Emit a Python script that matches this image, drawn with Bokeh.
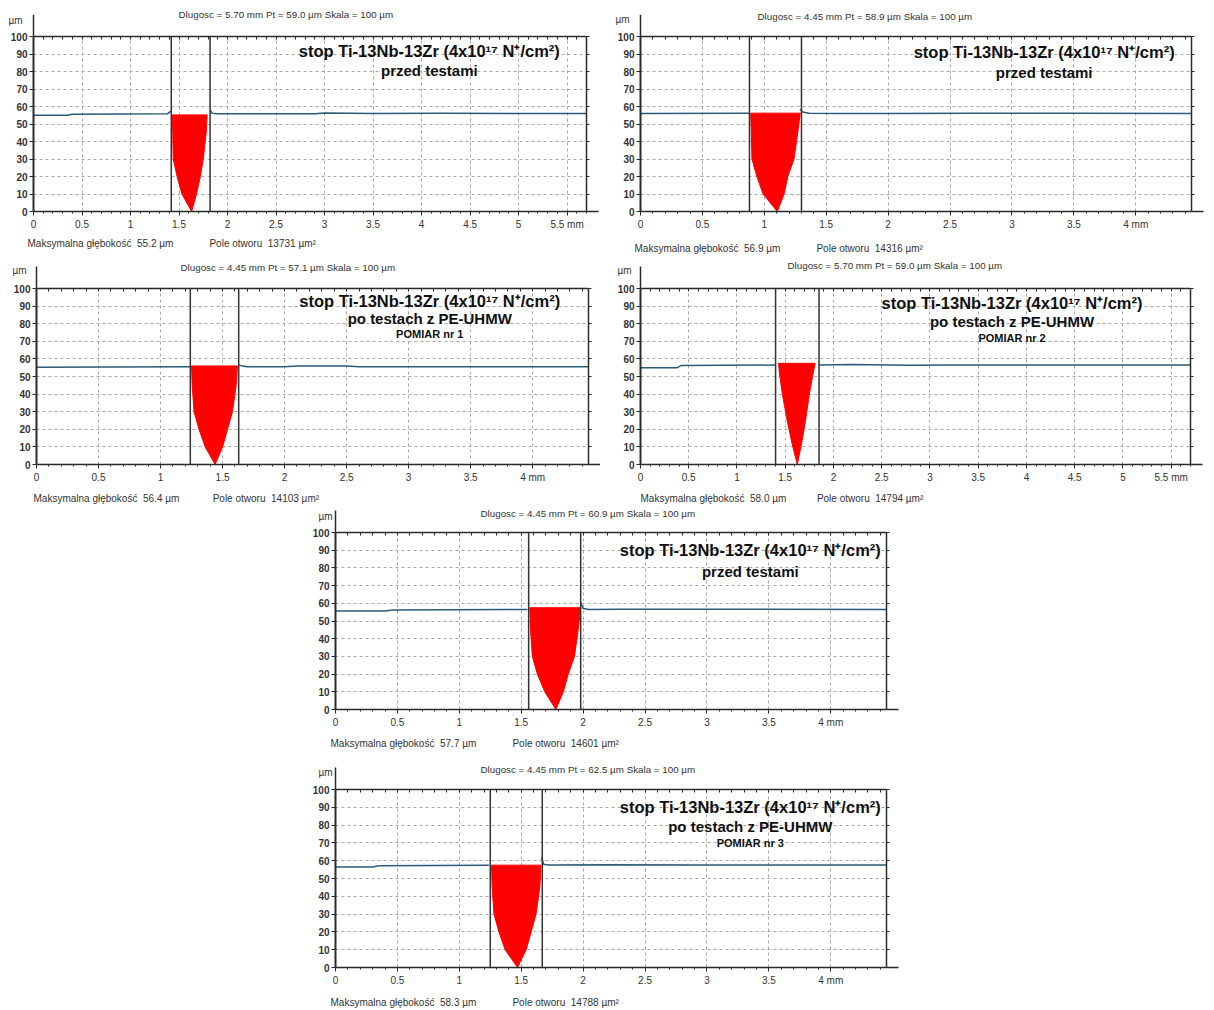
from bokeh.plotting import figure
from bokeh.models import (Arrow, OpenHead, NormalHead, Span, LinearAxis, FixedTicker, Title, Label,
                          NumeralTickFormatter, Range1d, Spacer)
from bokeh.layouts import row, column
from bokeh.embed import file_html
from bokeh.resources import INLINE
import numpy as np

# ---------------- data ----------------
y_ticks = [0, 10, 20, 30, 40, 50, 60, 70, 80, 90, 100]
x_ticks_570 = [0, 0.5, 1, 1.5, 2, 2.5, 3, 3.5, 4, 4.5, 5, 5.5]
x_labels_570 = ["0", "0.5", "1", "1.5", "2", "2.5", "3", "3.5", "4", "4.5", "5", "5.5 mm"]
x_ticks_445 = [0, 0.5, 1, 1.5, 2, 2.5, 3, 3.5, 4]
x_labels_445 = ["0", "0.5", "1", "1.5", "2", "2.5", "3", "3.5", "4 mm"]

lengths = [5.70, 4.45, 4.45, 5.70, 4.45, 4.45]
pt_values = [59.0, 58.9, 57.1, 59.0, 60.9, 62.5]
max_depths = [55.2, 56.9, 56.4, 58.0, 57.7, 58.3]
hole_areas = [13731, 14316, 14103, 14794, 14601, 14788]

title_line1 = "stop Ti-13Nb-13Zr (4x10\u00b9\u2077 N\u207a/cm\u00b2)"
title_before = "przed testami"
title_after = "po testach z PE-UHMW"
measure_1 = "POMIAR nr 1"
measure_2 = "POMIAR nr 2"
measure_3 = "POMIAR nr 3"

# panel 1
p1_left_x = [0, 0.35, 0.40, 1.38, 1.42]
p1_left_y = [55.0, 55.0, 55.6, 55.8, 57.5]
p1_right_x = [1.82, 1.84, 1.90, 2.90, 3.00, 3.50, 4.20, 5.70]
p1_right_y = [58.0, 56.2, 55.9, 55.9, 56.3, 56.0, 56.1, 56.0]
p1_crater_x = [1.43, 1.435, 1.44, 1.48, 1.53, 1.63, 1.68, 1.72, 1.75, 1.78, 1.79]
p1_crater_y = [55.2, 45, 30, 20, 10, 0, 10, 20, 30, 45, 55.2]
p1_cursors = [1.42, 1.82]

# panel 2
p2_left_x = [0, 0.88]
p2_left_y = [56.0, 56.2]
p2_right_x = [1.29, 1.31, 1.36, 1.60, 2.00, 2.70, 3.50, 4.45]
p2_right_y = [58.5, 56.8, 56.2, 56.0, 56.0, 56.2, 56.1, 56.0]
p2_crater_x = [0.89, 0.895, 0.90, 0.94, 0.99, 1.105, 1.16, 1.19, 1.24, 1.27, 1.29]
p2_crater_y = [56.2, 45, 30, 20, 10, 0, 10, 20, 30, 45, 56.2]
p2_cursors = [0.88, 1.30]

# panel 3
p3_left_x = [0, 1.24]
p3_left_y = [55.3, 55.6]
p3_right_x = [1.63, 1.66, 1.70, 2.00, 2.10, 2.50, 2.60, 4.45]
p3_right_y = [56.6, 55.9, 55.6, 55.6, 56.0, 55.9, 55.6, 55.6]
p3_crater_x = [1.25, 1.255, 1.27, 1.31, 1.36, 1.44, 1.50, 1.54, 1.58, 1.61, 1.62]
p3_crater_y = [56.0, 45, 30, 20, 10, 0, 10, 20, 30, 45, 56.0]
p3_cursors = [1.24, 1.63]

# panel 4
p4_left_x = [0, 0.38, 0.42, 1.40]
p4_left_y = [55.0, 55.0, 56.2, 56.5]
p4_right_x = [1.85, 2.20, 2.80, 3.20, 5.70]
p4_right_y = [56.5, 56.8, 56.4, 56.5, 56.5]
p4_crater_x = [1.43, 1.44, 1.47, 1.52, 1.57, 1.625, 1.67, 1.71, 1.75, 1.79, 1.81]
p4_crater_y = [57.5, 52, 40, 25, 12, 0, 12, 25, 40, 52, 57.5]
p4_cursors = [1.40, 1.85]

# panel 5
p5_left_x = [0, 0.40, 0.46, 1.55]
p5_left_y = [55.6, 55.6, 56.2, 56.5]
p5_right_x = [1.98, 2.00, 2.05, 2.30, 3.00, 4.45]
p5_right_y = [60.5, 57.0, 56.5, 56.7, 56.6, 56.5]
p5_crater_x = [1.57, 1.575, 1.59, 1.63, 1.69, 1.78, 1.84, 1.88, 1.93, 1.96, 1.98]
p5_crater_y = [57.5, 45, 30, 20, 10, 0, 10, 20, 30, 45, 57.5]
p5_cursors = [1.56, 1.98]

# panel 6
p6_left_x = [0, 0.30, 0.35, 1.24]
p6_left_y = [56.5, 56.5, 57.2, 57.5]
p6_right_x = [1.665, 1.68, 1.72, 2.20, 3.00, 4.45]
p6_right_y = [62.0, 58.0, 57.6, 57.7, 57.6, 57.6]
p6_crater_x = [1.26, 1.265, 1.28, 1.32, 1.37, 1.47, 1.54, 1.58, 1.62, 1.65, 1.66]
p6_crater_y = [57.5, 45, 30, 20, 10, 0, 10, 20, 30, 45, 57.5]
p6_cursors = [1.25, 1.67]

# ---------------- styling ----------------
FONT = "Liberation Sans"
PROFILE_COLOR = "#2c5a78"
RED = "#ff0000"
GRID_COLOR = "#a8a8a8"
AXIS_COLOR = "#2a2a2a"
NB = "\u00a0"


def make_panel(width, height, bl, br, bt, bb, length, pt, ticks, labels,
               lx, ly, rx, ry, cx, cy, cursors, depth, area,
               lines, title_x, title_ys, header_off, um_off, maks_off, gap,
               d_um, d_head, d_bottom):
    p = figure(width=width, height=height, output_backend="svg", toolbar_location=None,
               x_range=Range1d(0, length), y_range=Range1d(0, 100),
               min_border_left=bl, min_border_right=br,
               min_border_top=bt, min_border_bottom=bb, title_location=None)
    p.outline_line_color = None
    p.background_fill_color = "white"
    p.border_fill_color = "white"

    minor = list(np.round(np.arange(0, length + 1e-9, 0.1), 3))
    xt = FixedTicker(ticks=ticks, minor_ticks=minor)
    yt = FixedTicker(ticks=y_ticks, minor_ticks=[])

    # bottom axis
    ax = p.xaxis[0]
    ax.ticker = xt
    ax.formatter = NumeralTickFormatter(format="0.[0]")
    ax.major_label_overrides = {float(t): l for t, l in zip(ticks, labels)}
    ax.axis_line_color = AXIS_COLOR
    ax.axis_line_width = 1.5
    ax.major_tick_out = 4
    ax.major_tick_in = 0
    ax.minor_tick_out = 2
    ax.minor_tick_in = 0
    ax.major_tick_line_color = AXIS_COLOR
    ax.minor_tick_line_color = AXIS_COLOR
    ax.major_label_text_font = FONT
    ax.major_label_text_font_size = "10px"
    ax.major_label_text_color = "#333333"
    ax.major_label_standoff = 3

    # left axis
    ay = p.yaxis[0]
    ay.ticker = yt
    ay.axis_line_color = AXIS_COLOR
    ay.axis_line_width = 2
    ay.major_tick_out = 4
    ay.major_tick_in = 0
    ay.minor_tick_out = 0
    ay.major_tick_line_color = AXIS_COLOR
    ay.major_label_text_font = FONT
    ay.major_label_text_font_size = "10px"
    ay.major_label_text_font_style = "bold"
    ay.major_label_text_color = "#333333"
    ay.major_label_standoff = 2

    # top border: only small inner ticks, no labels
    top = LinearAxis(ticker=FixedTicker(ticks=[], minor_ticks=minor),
                     major_tick_in=0, major_tick_out=0, minor_tick_in=3, minor_tick_out=0,
                     axis_line_color=AXIS_COLOR, axis_line_width=1.5,
                     minor_tick_line_color=AXIS_COLOR)
    p.add_layout(top, "above")
    # right border: small outer ticks, no labels
    right = LinearAxis(ticker=FixedTicker(ticks=[], minor_ticks=y_ticks),
                       major_tick_in=0, major_tick_out=0, minor_tick_in=0, minor_tick_out=3,
                       axis_line_color=AXIS_COLOR, axis_line_width=1.5,
                       minor_tick_line_color=AXIS_COLOR)
    p.add_layout(right, "right")

    # grid
    p.xgrid.ticker = xt
    p.ygrid.ticker = yt
    for g in (p.xgrid[0], p.ygrid[0]):
        g.grid_line_color = GRID_COLOR
        g.grid_line_dash = "3 3"
        g.grid_line_width = 1

    # crater fill and profile
    p.patch(cx, cy, fill_color=RED, line_color=RED, line_width=1)
    p.line(lx, ly, line_color=PROFILE_COLOR, line_width=1.5)
    p.line(rx, ry, line_color=PROFILE_COLOR, line_width=1.5)
    for c in cursors:
        p.add_layout(Span(location=c, dimension="height", line_color="#333333", line_width=1.5))

    # axis arrows; an invisible start head opens a clip window for the shaft
    xpx = (width - bl - br) / length
    ypx = (height - bt - bb) / 100.0
    x_len, y_len = 12, 22
    p.add_layout(Arrow(x_start=length, y_start=0, x_end=length + x_len / xpx, y_end=0,
                       line_color=AXIS_COLOR, line_width=1.5,
                       start=NormalHead(size=2.5 * x_len, fill_alpha=0, line_alpha=0),
                       end=OpenHead(size=8, line_color=AXIS_COLOR, line_width=1.2)))
    p.add_layout(Arrow(x_start=0, y_start=100, x_end=0, y_end=100 + y_len / ypx,
                       line_color=AXIS_COLOR, line_width=1.5,
                       start=NormalHead(size=2.5 * y_len, fill_alpha=0, line_alpha=0),
                       end=OpenHead(size=8, line_color=AXIS_COLOR, line_width=1.2)))

    # texts above the frame: zero-height titles drawn outward by a negative standoff
    um = Title(text="\u00b5m", align="left", offset=um_off, vertical_align="top",
               standoff=-2 * (d_um + 5.0),
               text_font=FONT, text_font_size="10px", text_font_style="normal",
               text_color="#333333")
    p.add_layout(um, "above")
    header = Title(text=f"Dlugosc = {length:.2f} mm  Pt = {pt:.1f} \u00b5m  Skala = 100 \u00b5m",
                   align="left", offset=header_off, vertical_align="top",
                   standoff=-2 * (d_head + 5.4),
                   text_font=FONT, text_font_size="9.8px", text_font_style="normal",
                   text_color="#333333")
    p.add_layout(header, "above")

    # text below the axis
    bottom_text = (f"Maksymalna g\u0142\u0119boko\u015b\u0107{NB}{NB}{depth:.1f} \u00b5m"
                   + NB * gap + f"Pole otworu{NB}{NB}{area} \u00b5m\u00b2")
    bottom = Title(text=bottom_text, align="left", offset=maks_off, vertical_align="bottom",
                   standoff=-2 * (d_bottom - 16.5),
                   text_font=FONT, text_font_size="10px", text_font_style="normal",
                   text_color="#333333")
    p.add_layout(bottom, "below")

    # big annotation text inside the frame
    sizes = ["16.5px", "15px", "11px"]
    for line, ty, sz in zip(lines, title_ys, sizes):
        p.add_layout(Label(x=title_x, y=ty, text=line, text_align="center",
                           text_baseline="middle", text_font=FONT, text_font_size=sz,
                           text_font_style="bold", text_color="#111111"))
    return p


f1 = make_panel(600, 255, 33, 14, 35, 44, lengths[0], pt_values[0], x_ticks_570, x_labels_570,
                p1_left_x, p1_left_y, p1_right_x, p1_right_y, p1_crater_x, p1_crater_y, p1_cursors,
                max_depths[0], hole_areas[0], [title_line1, title_before], 4.08, [91.5, 80.5],
                145, -25, -6, 13, 17, 22, 33)
f2 = make_panel(613, 255, 40, 22, 36, 42, lengths[1], pt_values[1], x_ticks_445, x_labels_445,
                p2_left_x, p2_left_y, p2_right_x, p2_right_y, p2_crater_x, p2_crater_y, p2_cursors,
                max_depths[1], hole_areas[1], [title_line1, title_before], 3.26, [91, 79.5],
                117, -25, -6, 13, 18, 20, 38)
f3 = make_panel(600, 250, 36, 12, 33, 41, lengths[2], pt_values[2], x_ticks_445, x_labels_445,
                p3_left_x, p3_left_y, p3_right_x, p3_right_y, p3_crater_x, p3_crater_y, p3_cursors,
                max_depths[2], hole_areas[2], [title_line1, title_after, measure_1], 3.17,
                [93, 83, 74], 144, -24, -3, 12, 19, 21, 35)
f4 = make_panel(613, 250, 40, 23, 32, 41, lengths[3], pt_values[3], x_ticks_570, x_labels_570,
                p4_left_x, p4_left_y, p4_right_x, p4_right_y, p4_crater_x, p4_crater_y, p4_cursors,
                max_depths[3], hole_areas[3], [title_line1, title_after, measure_2], 3.85,
                [92, 81, 72], 147, -23, 0, 11, 19, 23, 35)
f5 = make_panel(605, 255, 30, 24, 27, 51, lengths[4], pt_values[4], x_ticks_445, x_labels_445,
                p5_left_x, p5_left_y, p5_right_x, p5_right_y, p5_crater_x, p5_crater_y, p5_cursors,
                max_depths[4], hole_areas[4], [title_line1, title_before], 3.35, [90, 78],
                145, -17, -5, 13, 17, 19, 35)
f6 = make_panel(605, 249, 30, 24, 29, 42, lengths[5], pt_values[5], x_ticks_445, x_labels_445,
                p6_left_x, p6_left_y, p6_right_x, p6_right_y, p6_crater_x, p6_crater_y, p6_cursors,
                max_depths[5], hole_areas[5], [title_line1, title_after, measure_3], 3.35,
                [90, 79, 70], 145, -17, -5, 13, 18, 20, 36)

layout = column(
    row(f1, f2),
    row(f3, f4),
    row(Spacer(width=305, height=255), f5),
    row(Spacer(width=305, height=249), f6),
)

open("out.html", "w").write(file_html(layout, INLINE))
